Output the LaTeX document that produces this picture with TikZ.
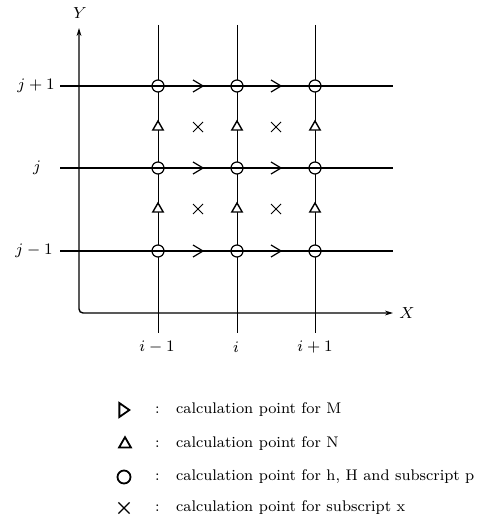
\documentclass[tikz,border=0pt]{standalone}
\usetikzlibrary{shapes.geometric,shapes.misc,arrows.meta}
\begin{document}
\begin{tikzpicture}[x=0.5pt,y=-0.5pt,
  gridh/.style={line width=0.9pt},
  gridv/.style={line width=0.5pt},
  axisline/.style={line width=0.7pt,rounded corners=2pt,{Stealth[length=4pt,width=2.4pt]}-{Stealth[length=4pt,width=2.4pt]}},
  hpt/.style={circle,draw,fill=white,line width=0.6pt,inner sep=0pt,minimum size=6pt},
  npt/.style={regular polygon,regular polygon sides=3,draw,fill=white,line width=0.7pt,inner sep=0pt,minimum size=6pt},
  xpt/.style={cross out,draw,line width=0.5pt,inner sep=0pt,minimum size=4.5pt},
  chev/.style={line width=0.6pt},
  lab/.style={font=\fontsize{8}{9}\selectfont},
  leg/.style={font=\fontsize{7.7}{9}\selectfont,anchor=west},
  legsym/.style={line width=0.9pt,inner sep=0pt}]
\useasboundingbox (0,0) rectangle (490,524);
% axes
\coordinate (ytip) at (79,28);
\coordinate (orig) at (79,313);
\coordinate (xtip) at (393,313);
\draw[axisline] (ytip) -- (orig) -- (xtip);
\node[lab] (Ylab) at (80,13) {$Y$};
\node[lab] (Xlab) at (407,313) {$X$};
% vertical grid lines
\foreach \n/\x in {a/158,b/237,c/315}{
  \coordinate (vt\n) at (\x,25);
  \coordinate (vb\n) at (\x,333);
  \draw[gridv] (vt\n) -- (vb\n);
}
% triangles (N points)
\foreach \n/\x in {a/158,b/237,c/315}{
  \foreach \m/\y in {u/127,l/209}{
    \node[npt] (N\n\m) at (\x,\y) {};
  }
}
% circles (h points)
\foreach \n/\x in {a/158,b/237,c/315}{
  \foreach \m/\y in {t/86,m/168,b/251}{
    \node[hpt] (H\n\m) at (\x,\y) {};
  }
}
% horizontal grid lines
\foreach \m/\y in {t/86,m/168,b/251}{
  \coordinate (hl\m) at (60,\y);
  \coordinate (hr\m) at (393,\y);
  \draw[gridh] (hl\m) -- (hr\m);
}
% chevrons (M points)
\foreach \n/\x in {a/198,b/276}{
  \foreach \m/\y in {t/86,m/168,b/251}{
    \coordinate (M\n\m) at (\x,\y);
    \draw[chev] (M\n\m) ++(-2.5pt,3pt) -- ++(5pt,-3pt) -- ++(-5pt,-3pt);
  }
}
% crosses
\foreach \n/\x in {a/198,b/276}{
  \foreach \m/\y in {u/127,l/209}{
    \node[xpt] (X\n\m) at (\x,\y) {};
  }
}
% labels
\node[lab] (jp) at (36,86) {$j+1$};
\node[lab] (j0) at (37,168) {$j$};
\node[lab] (jm) at (34,251) {$j-1$};
\node[lab] (im) at (157,347) {$i-1$};
\node[lab] (i0) at (236,347) {$i$};
\node[lab] (ip) at (315,347) {$i+1$};
% legend
\node[legsym,draw,isosceles triangle,isosceles triangle apex angle=70,minimum height=5pt] (s1) at (123,410) {};
\node[legsym,draw,regular polygon,regular polygon sides=3,minimum size=6.8pt] (s2) at (125,444) {};
\node[legsym,draw,circle,minimum size=6.5pt] (s3) at (124,477) {};
\node[legsym,draw,cross out,line width=0.6pt,minimum size=5pt] (s4) at (124,508) {};
\foreach \k/\y in {1/410,2/444,3/477,4/508}{
  \node[leg] (c\k) at (148,\y) {:};
}
\node[leg] (t1) at (169,410) {calculation point for M};
\node[leg] (t2) at (169,444) {calculation point for N};
\node[leg] (t3) at (169,477) {calculation point for h, H and subscript p};
\node[leg] (t4) at (169,508) {calculation point for subscript x};
\end{tikzpicture}
\end{document}
